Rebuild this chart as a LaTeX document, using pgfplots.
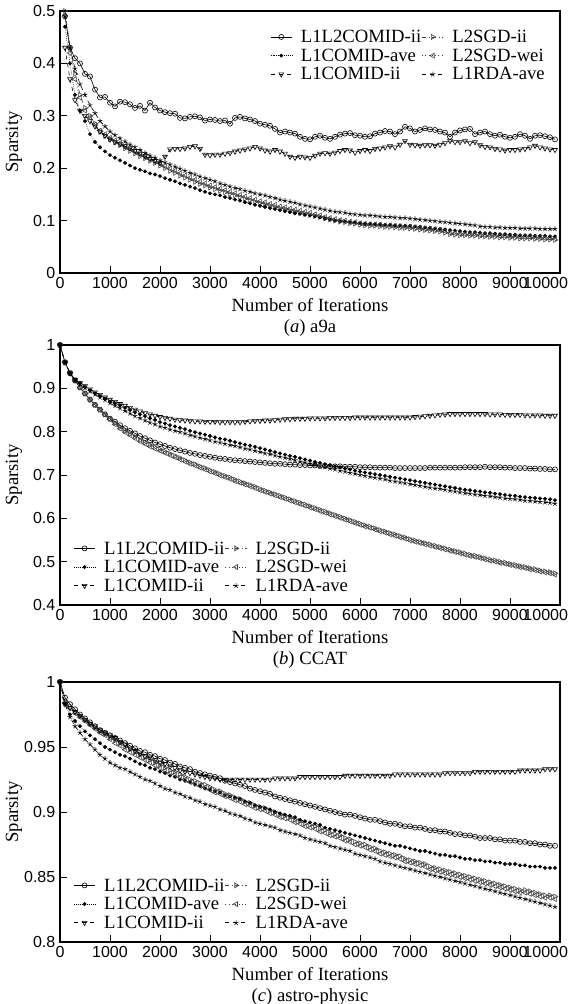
\documentclass[border=0pt]{standalone}
\usepackage{fontspec}
\setmainfont{Liberation Serif}
\setsansfont{Liberation Sans}
\usepackage{pgfplots}
\usepackage{pgfplotstable}
\pgfplotsset{compat=1.18}
\newcommand\lgf{\rmfamily\fontsize{14}{15}\selectfont}

% columns: a=L1L2COMID-ii b=L1COMID-ave c=L1COMID-ii d=L2SGD-ii e=L2SGD-wei f=L1RDA-ave
\pgfplotstableread{
x a b c d e f
100 0.490 0.470 0.430 0.500 0.490 0.490
200 0.430 0.400 0.370 0.430 0.420 0.430
300 0.410 0.340 0.330 0.380 0.370 0.390
400 0.400 0.310 0.310 0.340 0.335 0.360
500 0.380 0.290 0.300 0.315 0.310 0.340
600 0.375 0.265 0.290 0.300 0.297 0.320
700 0.350 0.250 0.280 0.285 0.283 0.305
800 0.335 0.240 0.270 0.270 0.272 0.290
900 0.336 0.232 0.262 0.262 0.265 0.280
1000 0.325 0.225 0.255 0.255 0.258 0.270
1100 0.318 0.220 0.250 0.249 0.253 0.263
1200 0.327 0.215 0.246 0.244 0.248 0.257
1300 0.326 0.210 0.242 0.238 0.242 0.251
1400 0.322 0.205 0.238 0.233 0.237 0.245
1500 0.315 0.200 0.233 0.228 0.232 0.240
1600 0.319 0.197 0.228 0.223 0.227 0.235
1700 0.310 0.194 0.223 0.219 0.223 0.229
1800 0.325 0.190 0.218 0.214 0.218 0.224
1900 0.316 0.188 0.214 0.210 0.214 0.220
2000 0.310 0.185 0.210 0.205 0.209 0.215
2100 0.307 0.181 0.222 0.200 0.204 0.211
2200 0.305 0.178 0.236 0.195 0.199 0.207
2300 0.304 0.175 0.237 0.191 0.195 0.203
2400 0.296 0.171 0.237 0.186 0.190 0.199
2500 0.295 0.168 0.238 0.182 0.186 0.195
2600 0.298 0.165 0.241 0.178 0.182 0.191
2700 0.299 0.162 0.242 0.174 0.178 0.188
2800 0.297 0.158 0.237 0.170 0.174 0.184
2900 0.291 0.155 0.226 0.167 0.171 0.181
3000 0.293 0.152 0.225 0.163 0.167 0.178
3100 0.292 0.150 0.226 0.160 0.164 0.175
3200 0.290 0.148 0.226 0.157 0.161 0.171
3300 0.291 0.145 0.228 0.154 0.158 0.168
3400 0.285 0.143 0.229 0.151 0.155 0.165
3500 0.296 0.140 0.232 0.148 0.152 0.162
3600 0.298 0.138 0.234 0.145 0.149 0.160
3700 0.295 0.135 0.236 0.142 0.146 0.157
3800 0.293 0.133 0.238 0.139 0.143 0.155
3900 0.290 0.130 0.241 0.136 0.140 0.152
4000 0.285 0.128 0.238 0.133 0.137 0.150
4100 0.283 0.126 0.234 0.131 0.135 0.148
4200 0.281 0.124 0.232 0.128 0.132 0.145
4300 0.275 0.122 0.235 0.126 0.130 0.143
4400 0.268 0.120 0.232 0.123 0.127 0.140
4500 0.270 0.118 0.228 0.121 0.125 0.138
4600 0.268 0.116 0.222 0.119 0.123 0.136
4700 0.266 0.114 0.220 0.117 0.121 0.134
4800 0.260 0.113 0.222 0.115 0.119 0.131
4900 0.256 0.111 0.221 0.113 0.117 0.129
5000 0.255 0.110 0.220 0.111 0.115 0.127
5100 0.260 0.108 0.224 0.109 0.112 0.125
5200 0.262 0.106 0.228 0.107 0.110 0.123
5300 0.258 0.104 0.229 0.104 0.107 0.121
5400 0.256 0.102 0.228 0.102 0.105 0.119
5500 0.260 0.100 0.230 0.100 0.103 0.117
5600 0.264 0.099 0.233 0.098 0.101 0.116
5700 0.266 0.098 0.235 0.097 0.100 0.115
5800 0.267 0.097 0.234 0.095 0.098 0.113
5900 0.263 0.096 0.230 0.094 0.097 0.112
6000 0.262 0.095 0.233 0.092 0.095 0.111
6100 0.260 0.094 0.235 0.091 0.094 0.110
6200 0.261 0.094 0.233 0.090 0.093 0.110
6300 0.266 0.093 0.237 0.090 0.093 0.109
6400 0.268 0.093 0.238 0.089 0.092 0.108
6500 0.271 0.092 0.240 0.088 0.091 0.107
6600 0.270 0.092 0.242 0.088 0.091 0.107
6700 0.265 0.091 0.240 0.087 0.090 0.106
6800 0.270 0.091 0.245 0.086 0.089 0.105
6900 0.279 0.090 0.252 0.086 0.089 0.105
7000 0.276 0.090 0.245 0.085 0.088 0.104
7100 0.270 0.089 0.244 0.084 0.087 0.103
7200 0.273 0.088 0.243 0.083 0.086 0.102
7300 0.276 0.087 0.244 0.082 0.085 0.101
7400 0.274 0.086 0.244 0.081 0.084 0.100
7500 0.273 0.085 0.243 0.080 0.083 0.099
7600 0.270 0.084 0.245 0.079 0.082 0.098
7700 0.268 0.083 0.248 0.077 0.080 0.097
7800 0.260 0.082 0.252 0.074 0.077 0.096
7900 0.268 0.081 0.250 0.073 0.076 0.095
8000 0.272 0.080 0.250 0.072 0.075 0.094
8100 0.274 0.079 0.252 0.072 0.075 0.093
8200 0.275 0.078 0.248 0.071 0.074 0.092
8300 0.265 0.078 0.250 0.071 0.074 0.091
8400 0.268 0.077 0.244 0.070 0.073 0.089
8500 0.270 0.076 0.241 0.070 0.073 0.088
8600 0.265 0.076 0.240 0.069 0.072 0.088
8700 0.262 0.075 0.237 0.069 0.072 0.087
8800 0.264 0.074 0.236 0.068 0.071 0.087
8900 0.260 0.074 0.234 0.068 0.071 0.086
9000 0.258 0.073 0.235 0.067 0.070 0.086
9100 0.260 0.073 0.235 0.067 0.070 0.086
9200 0.265 0.072 0.236 0.066 0.069 0.085
9300 0.262 0.072 0.237 0.066 0.069 0.085
9400 0.256 0.072 0.240 0.066 0.069 0.085
9500 0.262 0.071 0.243 0.065 0.068 0.085
9600 0.263 0.071 0.240 0.065 0.068 0.084
9700 0.261 0.071 0.238 0.064 0.067 0.084
9800 0.259 0.070 0.236 0.064 0.067 0.084
9900 0.255 0.070 0.235 0.063 0.066 0.084
}\tabA

\pgfplotstableread{
x a b c d e f
0 1 1 1 1 1 1
100 0.960 0.960 0.960 0.960 0.960 0.960
200 0.935 0.935 0.935 0.935 0.935 0.935
300 0.918 0.920 0.920 0.918 0.918 0.919
400 0.902 0.912 0.912 0.902 0.902 0.910
500 0.888 0.903 0.905 0.888 0.888 0.901
600 0.874 0.896 0.898 0.874 0.874 0.893
700 0.862 0.889 0.891 0.862 0.861 0.886
800 0.851 0.882 0.885 0.851 0.850 0.879
900 0.840 0.876 0.879 0.840 0.839 0.873
1000 0.830 0.870 0.874 0.830 0.828 0.866
1100 0.823 0.865 0.869 0.820 0.817 0.860
1200 0.815 0.860 0.864 0.810 0.807 0.854
1300 0.808 0.855 0.860 0.802 0.799 0.848
1400 0.802 0.850 0.855 0.795 0.792 0.842
1500 0.796 0.845 0.851 0.788 0.785 0.836
1600 0.790 0.840 0.847 0.781 0.778 0.831
1700 0.785 0.836 0.843 0.775 0.772 0.826
1800 0.780 0.831 0.840 0.769 0.766 0.821
1900 0.775 0.827 0.837 0.764 0.761 0.817
2000 0.771 0.822 0.834 0.759 0.756 0.812
2100 0.767 0.819 0.832 0.754 0.751 0.809
2200 0.763 0.815 0.830 0.749 0.746 0.805
2300 0.760 0.812 0.828 0.744 0.741 0.802
2400 0.757 0.809 0.827 0.739 0.736 0.799
2500 0.754 0.806 0.826 0.734 0.731 0.796
2600 0.751 0.802 0.825 0.729 0.726 0.792
2700 0.749 0.799 0.824 0.725 0.722 0.789
2800 0.746 0.796 0.824 0.720 0.717 0.786
2900 0.744 0.793 0.823 0.716 0.713 0.783
3000 0.742 0.790 0.823 0.711 0.708 0.780
3100 0.740 0.787 0.823 0.707 0.704 0.777
3200 0.738 0.784 0.822 0.702 0.699 0.775
3300 0.737 0.782 0.822 0.698 0.695 0.772
3400 0.735 0.779 0.822 0.694 0.691 0.769
3500 0.734 0.776 0.822 0.689 0.686 0.767
3600 0.733 0.773 0.822 0.685 0.682 0.764
3700 0.732 0.770 0.823 0.681 0.678 0.761
3800 0.731 0.768 0.824 0.677 0.674 0.759
3900 0.730 0.765 0.825 0.673 0.670 0.756
4000 0.729 0.762 0.825 0.668 0.665 0.753
4100 0.728 0.759 0.826 0.664 0.661 0.750
4200 0.727 0.756 0.826 0.660 0.657 0.748
4300 0.726 0.753 0.827 0.656 0.653 0.745
4400 0.726 0.750 0.828 0.652 0.649 0.742
4500 0.725 0.747 0.829 0.648 0.645 0.740
4600 0.724 0.744 0.829 0.644 0.641 0.737
4700 0.724 0.742 0.830 0.640 0.637 0.734
4800 0.723 0.739 0.830 0.636 0.633 0.731
4900 0.723 0.736 0.830 0.632 0.629 0.729
5000 0.722 0.733 0.831 0.628 0.625 0.726
5100 0.722 0.730 0.831 0.624 0.621 0.723
5200 0.721 0.728 0.831 0.620 0.617 0.720
5300 0.721 0.725 0.831 0.616 0.613 0.718
5400 0.720 0.723 0.832 0.612 0.609 0.715
5500 0.720 0.720 0.832 0.608 0.605 0.713
5600 0.720 0.718 0.832 0.604 0.601 0.710
5700 0.719 0.715 0.832 0.600 0.597 0.708
5800 0.719 0.713 0.832 0.596 0.593 0.705
5900 0.719 0.710 0.833 0.592 0.589 0.703
6000 0.718 0.708 0.833 0.588 0.585 0.700
6100 0.718 0.706 0.833 0.584 0.581 0.698
6200 0.718 0.704 0.833 0.581 0.578 0.696
6300 0.717 0.702 0.833 0.577 0.574 0.694
6400 0.717 0.700 0.833 0.573 0.570 0.692
6500 0.717 0.698 0.833 0.570 0.567 0.690
6600 0.717 0.696 0.833 0.566 0.563 0.687
6700 0.716 0.694 0.833 0.563 0.560 0.685
6800 0.716 0.692 0.833 0.559 0.556 0.683
6900 0.716 0.690 0.833 0.556 0.553 0.681
7000 0.716 0.688 0.833 0.552 0.549 0.679
7100 0.716 0.686 0.834 0.549 0.546 0.677
7200 0.716 0.684 0.835 0.546 0.543 0.675
7300 0.716 0.682 0.836 0.543 0.540 0.673
7400 0.717 0.680 0.837 0.540 0.537 0.671
7500 0.717 0.678 0.838 0.537 0.534 0.669
7600 0.717 0.676 0.839 0.534 0.531 0.668
7700 0.717 0.674 0.840 0.531 0.528 0.666
7800 0.717 0.672 0.841 0.528 0.525 0.664
7900 0.717 0.670 0.841 0.525 0.522 0.662
8000 0.717 0.668 0.841 0.522 0.519 0.660
8100 0.718 0.666 0.841 0.519 0.516 0.658
8200 0.718 0.665 0.841 0.516 0.513 0.657
8300 0.718 0.663 0.841 0.514 0.511 0.655
8400 0.718 0.662 0.841 0.511 0.508 0.654
8500 0.719 0.660 0.841 0.508 0.505 0.652
8600 0.718 0.659 0.840 0.505 0.502 0.651
8700 0.718 0.657 0.840 0.503 0.500 0.649
8800 0.718 0.656 0.840 0.500 0.497 0.648
8900 0.717 0.654 0.839 0.498 0.495 0.646
9000 0.717 0.653 0.839 0.495 0.492 0.645
9100 0.716 0.652 0.839 0.493 0.490 0.644
9200 0.716 0.650 0.839 0.490 0.487 0.643
9300 0.716 0.649 0.838 0.488 0.485 0.641
9400 0.715 0.648 0.838 0.485 0.482 0.640
9500 0.715 0.647 0.838 0.483 0.480 0.639
9600 0.714 0.646 0.838 0.480 0.477 0.638
9700 0.714 0.645 0.837 0.478 0.475 0.637
9800 0.713 0.644 0.837 0.476 0.473 0.636
9900 0.713 0.642 0.837 0.473 0.470 0.634
}\tabB

\pgfplotstableread{
x a b c d e f
0 1 1 1 1 1 1
100 0.988 0.983 0.983 0.985 0.984 0.983
200 0.983 0.975 0.980 0.981 0.980 0.973
300 0.979 0.970 0.977 0.977 0.976 0.966
400 0.975 0.966 0.974 0.974 0.973 0.961
500 0.972 0.962 0.971 0.971 0.970 0.956
600 0.969 0.959 0.968 0.968 0.967 0.952
700 0.966 0.956 0.966 0.965 0.964 0.948
800 0.963 0.953 0.963 0.962 0.961 0.944
900 0.961 0.950 0.961 0.960 0.959 0.941
1000 0.959 0.948 0.959 0.957 0.956 0.938
1100 0.957 0.946 0.957 0.955 0.953 0.936
1200 0.955 0.944 0.954 0.953 0.951 0.934
1300 0.953 0.943 0.952 0.950 0.948 0.933
1400 0.951 0.941 0.949 0.948 0.946 0.931
1500 0.949 0.939 0.947 0.946 0.944 0.929
1600 0.947 0.937 0.945 0.944 0.942 0.927
1700 0.946 0.936 0.943 0.942 0.940 0.925
1800 0.944 0.934 0.942 0.940 0.938 0.924
1900 0.943 0.933 0.940 0.938 0.936 0.922
2000 0.941 0.931 0.938 0.936 0.934 0.920
2100 0.940 0.930 0.937 0.934 0.932 0.918
2200 0.938 0.928 0.935 0.932 0.930 0.917
2300 0.937 0.927 0.934 0.931 0.929 0.915
2400 0.935 0.925 0.932 0.929 0.927 0.914
2500 0.934 0.924 0.931 0.927 0.925 0.912
2600 0.933 0.923 0.930 0.925 0.923 0.911
2700 0.931 0.921 0.929 0.924 0.922 0.909
2800 0.930 0.920 0.928 0.922 0.920 0.908
2900 0.929 0.918 0.927 0.921 0.919 0.906
3000 0.928 0.917 0.926 0.919 0.917 0.905
3100 0.927 0.916 0.926 0.917 0.915 0.904
3200 0.926 0.915 0.925 0.916 0.914 0.902
3300 0.924 0.913 0.925 0.914 0.912 0.901
3400 0.923 0.912 0.925 0.913 0.911 0.899
3500 0.922 0.911 0.925 0.911 0.909 0.898
3600 0.921 0.910 0.925 0.910 0.908 0.897
3700 0.920 0.908 0.925 0.908 0.906 0.895
3800 0.918 0.907 0.925 0.907 0.905 0.894
3900 0.917 0.905 0.925 0.905 0.903 0.892
4000 0.916 0.904 0.925 0.904 0.902 0.891
4100 0.915 0.903 0.925 0.903 0.901 0.890
4200 0.914 0.902 0.925 0.901 0.899 0.889
4300 0.912 0.900 0.926 0.900 0.898 0.888
4400 0.911 0.899 0.926 0.898 0.896 0.886
4500 0.910 0.898 0.926 0.897 0.895 0.885
4600 0.909 0.897 0.926 0.896 0.894 0.884
4700 0.908 0.896 0.926 0.894 0.892 0.883
4800 0.907 0.894 0.927 0.893 0.891 0.882
4900 0.906 0.893 0.927 0.891 0.889 0.880
5000 0.905 0.892 0.927 0.890 0.888 0.879
5100 0.904 0.891 0.927 0.889 0.887 0.878
5200 0.903 0.890 0.927 0.887 0.885 0.877
5300 0.902 0.888 0.927 0.886 0.884 0.876
5400 0.901 0.887 0.927 0.884 0.882 0.874
5500 0.900 0.886 0.927 0.883 0.881 0.873
5600 0.899 0.885 0.927 0.882 0.880 0.872
5700 0.898 0.884 0.928 0.880 0.878 0.871
5800 0.898 0.883 0.928 0.879 0.877 0.870
5900 0.897 0.882 0.928 0.877 0.875 0.868
6000 0.896 0.881 0.928 0.876 0.874 0.867
6100 0.895 0.880 0.928 0.875 0.873 0.866
6200 0.894 0.879 0.928 0.873 0.871 0.865
6300 0.894 0.878 0.928 0.872 0.870 0.864
6400 0.893 0.877 0.928 0.870 0.868 0.862
6500 0.892 0.876 0.928 0.869 0.867 0.861
6600 0.891 0.875 0.928 0.868 0.866 0.860
6700 0.891 0.874 0.929 0.867 0.865 0.859
6800 0.890 0.874 0.929 0.866 0.864 0.858
6900 0.889 0.873 0.929 0.864 0.862 0.857
7000 0.889 0.872 0.929 0.863 0.861 0.856
7100 0.888 0.871 0.929 0.862 0.860 0.855
7200 0.888 0.870 0.929 0.861 0.859 0.854
7300 0.887 0.870 0.929 0.860 0.858 0.853
7400 0.886 0.869 0.929 0.858 0.856 0.852
7500 0.886 0.868 0.929 0.857 0.855 0.851
7600 0.885 0.867 0.929 0.856 0.854 0.850
7700 0.885 0.867 0.930 0.855 0.853 0.849
7800 0.884 0.866 0.930 0.854 0.852 0.848
7900 0.883 0.866 0.930 0.853 0.851 0.847
8000 0.883 0.865 0.930 0.852 0.850 0.846
8100 0.882 0.864 0.930 0.851 0.849 0.845
8200 0.882 0.864 0.930 0.850 0.848 0.844
8300 0.881 0.863 0.931 0.849 0.847 0.843
8400 0.880 0.863 0.931 0.848 0.846 0.842
8500 0.880 0.862 0.931 0.847 0.845 0.841
8600 0.880 0.862 0.931 0.846 0.844 0.840
8700 0.879 0.861 0.931 0.845 0.843 0.839
8800 0.879 0.861 0.931 0.844 0.842 0.838
8900 0.878 0.860 0.931 0.843 0.841 0.837
9000 0.878 0.860 0.931 0.842 0.840 0.836
9100 0.878 0.860 0.931 0.841 0.839 0.835
9200 0.877 0.859 0.932 0.840 0.838 0.834
9300 0.877 0.859 0.932 0.840 0.838 0.833
9400 0.876 0.858 0.932 0.839 0.837 0.832
9500 0.876 0.858 0.932 0.838 0.836 0.831
9600 0.875 0.858 0.932 0.837 0.835 0.830
9700 0.875 0.857 0.933 0.836 0.834 0.829
9800 0.874 0.857 0.933 0.836 0.834 0.828
9900 0.874 0.857 0.933 0.835 0.833 0.827
}\tabC

\pgfplotsset{
  spar/.style={
    scale only axis, width=375pt,
    xmin=0, xmax=10000,
    scaled x ticks=false, scaled y ticks=false,
    xtick={0,1000,...,10000},
    xticklabels={0,1000,2000,3000,4000,5000,6000,7000,8000,9000,\hspace*{-21.4pt}10000},
    tick align=inside, xtick pos=bottom, ytick pos=left,
    major tick length=5pt,
    axis line style={line width=0.8pt},
    tick style={line width=0.6pt, black},
    clip mode=individual,
    tick label style={font=\sffamily\fontsize{12}{12}\selectfont},
    /pgf/number format/assume math mode=true,
    yticklabel style={/pgf/number format/fixed},
    xlabel={Number of Iterations}, ylabel={Sparsity},
    label style={font=\lgf},
    xlabel style={at={(axis description cs:0.5,0)}, anchor=center, yshift=-24pt},
    ylabel style={at={(axis description cs:0,0.5)}, anchor=center, yshift=34.5pt},
    legend columns=2,
    legend cell align=left,
    legend style={draw=none, fill=none, inner sep=0pt,
      font=\lgf, row sep=2.5pt,
      nodes={inner sep=0.5pt, text height=9.5pt, text depth=1pt},
      /tikz/every odd column/.append style={column sep=6pt}},
    legend image code/.code={\draw[mark repeat=2,mark phase=2,##1] plot coordinates {(0pt,0pt) (8pt,0pt) (16pt,0pt)};},
    every axis plot/.append style={line width=0.45pt},
  },
  pA/.style={black, solid, mark=o, mark size=1.9pt},
  pB/.style={black, densely dotted, mark=*, mark size=1.2pt, mark options={solid}},
  pC/.style={black, dashed, mark=triangle, mark size=2.1pt, mark options={solid, rotate=180}},
  pD/.style={black!75, dash dot, mark=triangle, mark size=2.1pt, mark options={solid, rotate=-90}},
  pE/.style={black!75, dotted, mark=triangle, mark size=2.1pt, mark options={solid, rotate=90}},
  pF/.style={black, dashed, mark=star, mark size=1.9pt, mark options={solid}},
}

\begin{document}
\begin{tikzpicture}
% (a) a9a
\begin{axis}[spar, at={(0pt,0pt)}, anchor=south west, height=196.5pt,
  ymin=0, ymax=0.5, ytick={0,0.1,...,0.5},
  legend style={at={(1,1)}, anchor=north east, xshift=-10.75pt, yshift=-13.5pt}]
\addplot[pA] table[x=x,y=a] {\tabA};
\addplot[pD] table[x=x,y=d] {\tabA};
\addplot[pB] table[x=x,y=b] {\tabA};
\addplot[pE] table[x=x,y=e] {\tabA};
\addplot[pC] table[x=x,y=c] {\tabA};
\addplot[pF] table[x=x,y=f] {\tabA};
\legend{L1L2COMID-ii, L2SGD-ii, L1COMID-ave, L2SGD-wei, L1COMID-ii, L1RDA-ave}
\node[font=\lgf] at ([yshift=-41.5pt]rel axis cs:0.5,0) {(\textit{a}) a9a};
\end{axis}
% (b) CCAT
\begin{axis}[spar, at={(0pt,-249pt)}, anchor=south west, height=195pt,
  ymin=0.4, ymax=1, ytick={0.4,0.5,...,1.0},
  legend style={at={(0,0)}, anchor=south west, xshift=10pt, yshift=8.5pt}]
\addplot[pA] table[x=x,y=a] {\tabB};
\addplot[pD] table[x=x,y=d] {\tabB};
\addplot[pB] table[x=x,y=b] {\tabB};
\addplot[pE] table[x=x,y=e] {\tabB};
\addplot[pC] table[x=x,y=c] {\tabB};
\addplot[pF] table[x=x,y=f] {\tabB};
\legend{L1L2COMID-ii, L2SGD-ii, L1COMID-ave, L2SGD-wei, L1COMID-ii, L1RDA-ave}
\node[font=\lgf] at ([yshift=-41.5pt]rel axis cs:0.5,0) {(\textit{b}) CCAT};
\end{axis}
% (c) astro-physic
\begin{axis}[spar, at={(0pt,-501.75pt)}, anchor=south west, height=195pt,
  ymin=0.8, ymax=1, ytick={0.8,0.85,...,1.0},
  legend style={at={(0,0)}, anchor=south west, xshift=10pt, yshift=8.5pt}]
\addplot[pA] table[x=x,y=a] {\tabC};
\addplot[pD] table[x=x,y=d] {\tabC};
\addplot[pB] table[x=x,y=b] {\tabC};
\addplot[pE] table[x=x,y=e] {\tabC};
\addplot[pC] table[x=x,y=c] {\tabC};
\addplot[pF] table[x=x,y=f] {\tabC};
\legend{L1L2COMID-ii, L2SGD-ii, L1COMID-ave, L2SGD-wei, L1COMID-ii, L1RDA-ave}
\node[font=\lgf] at ([yshift=-41.5pt]rel axis cs:0.5,0) {(\textit{c}) astro-physic};
\end{axis}
\pgfresetboundingbox
\path[use as bounding box] (-45pt,-548.25pt) rectangle (383.25pt,204.75pt);
\end{tikzpicture}
\end{document}
